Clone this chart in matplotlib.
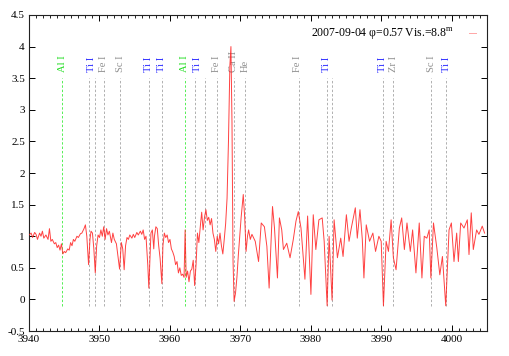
import matplotlib
matplotlib.use("Agg")
import matplotlib.pyplot as plt
from matplotlib.ticker import MultipleLocator, FuncFormatter

plt.rcParams['font.family'] = ['Liberation Serif', 'DejaVu Serif']
plt.rcParams['mathtext.fontset'] = 'custom'
plt.rcParams['mathtext.rm'] = 'Liberation Serif'

# Spectrum (wavelength, normalized flux)
wavelength = [
    3940.0, 3940.3, 3940.5, 3940.8, 3941.0, 3941.2, 3941.5, 3941.7, 3941.9, 3942.1,
    3942.4, 3942.7, 3942.9, 3943.1, 3943.3, 3943.6, 3943.8, 3944.0, 3944.2, 3944.4,
    3944.6, 3944.8, 3945.0, 3945.2, 3945.5, 3945.7, 3945.9, 3946.1, 3946.3, 3946.5,
    3946.8, 3947.0, 3947.3, 3947.5, 3947.8, 3948.0, 3948.2, 3948.45, 3948.65, 3948.8,
    3949.0, 3949.2, 3949.4, 3949.6, 3949.8, 3950.0, 3950.2, 3950.4, 3950.6, 3950.8,
    3951.0, 3951.2, 3951.4, 3951.7, 3951.9, 3952.1, 3952.4, 3952.6, 3952.85, 3953.1,
    3953.3, 3953.5, 3953.7, 3953.9, 3954.1, 3954.3, 3954.6, 3954.8, 3955.0, 3955.3,
    3955.5, 3955.8, 3956.0, 3956.2, 3956.4, 3956.6, 3956.85, 3957.0, 3957.15, 3957.3,
    3957.5, 3957.7, 3957.8, 3958.0, 3958.2, 3958.4, 3958.6, 3958.85, 3959.0, 3959.2,
    3959.4, 3959.6, 3959.8, 3960.0, 3960.2, 3960.4, 3960.6, 3960.8, 3961.0, 3961.2,
    3961.4, 3961.6, 3961.8, 3962.0, 3962.15, 3962.3, 3962.5, 3962.7, 3962.9, 3963.1,
    3963.3, 3963.5, 3963.7, 3963.9, 3964.1, 3964.3, 3964.5, 3964.7, 3964.9, 3965.1,
    3965.3, 3965.5, 3965.7, 3965.9, 3966.1, 3966.3, 3966.5, 3966.7, 3966.9, 3967.1,
    3967.3, 3967.5, 3967.7, 3967.9, 3968.1, 3968.3, 3968.5, 3968.65, 3968.8, 3968.95,
    3969.1, 3969.3, 3969.5, 3969.7, 3969.9, 3970.1, 3970.4, 3970.6, 3970.8, 3971.0,
    3971.16, 3971.4, 3971.63, 3972.1, 3972.57, 3972.95, 3973.4, 3973.75, 3974.07, 3974.55,
    3974.83, 3975.25, 3975.53, 3975.86, 3976.1, 3976.57, 3977.04, 3977.5, 3977.88, 3978.21,
    3978.59, 3979.15, 3979.53, 3980.0, 3980.33, 3980.7, 3981.13, 3981.6, 3981.88, 3982.3,
    3982.58, 3983.0, 3983.29, 3983.76, 3984.23, 3984.56, 3985.03, 3985.41, 3985.73, 3986.3,
    3986.58, 3986.96, 3987.29, 3987.52, 3987.85, 3988.32, 3988.79, 3989.17, 3989.64, 3989.97,
    3990.29, 3990.67, 3991.0, 3991.38, 3991.7, 3992.08, 3992.55, 3992.88, 3993.26, 3993.63,
    3994.1, 3994.43, 3994.9, 3995.37, 3995.75, 3996.08, 3996.45, 3996.78, 3997.02, 3997.39,
    3997.86, 3998.29, 3998.66, 3999.13, 3999.6, 3999.93, 4000.3, 4000.68, 4000.92, 4001.25,
    4001.72, 4002.19, 4002.43, 4002.75, 4003.04, 4003.51, 4003.84, 4004.31, 4004.64,
]
flux = [
    1.02, 1.05, 0.98, 1.06, 1.03, 0.95, 1.05, 1.00, 1.08, 0.97,
    1.02, 0.95, 1.12, 0.92, 0.95, 0.88, 0.90, 0.82, 0.86, 0.78,
    0.88, 0.72, 0.76, 0.74, 0.80, 0.78, 0.90, 0.85, 0.95, 0.92,
    1.00, 0.98, 1.04, 1.05, 1.12, 1.18, 1.00, 0.55, 0.95, 1.08,
    1.05, 0.80, 0.42, 0.85, 1.02, 0.98, 1.10, 1.00, 1.15, 0.95,
    1.12, 1.02, 1.08, 0.90, 1.05, 0.95, 0.88, 0.70, 0.48, 0.90,
    0.80, 0.47, 0.85, 0.98, 0.95, 1.02, 0.97, 1.03, 0.98, 1.06,
    1.02, 1.08, 1.03, 1.10, 0.95, 1.00, 0.55, 0.18, 0.60, 1.05,
    1.10, 0.80, 1.00, 1.15, 1.12, 0.85, 0.65, 0.25, 0.85, 1.05,
    0.98, 1.02, 0.90, 0.95, 0.80, 0.75, 0.68, 0.55, 0.60, 0.42,
    0.50, 0.38, 0.40, 0.35, 1.10, 0.35, 0.45, 0.28, 0.45, 0.48,
    0.62, 0.22, 0.55, 1.05, 0.90, 1.15, 1.38, 1.10, 1.30, 1.42,
    1.25, 1.30, 1.18, 1.28, 1.05, 0.95, 0.76, 1.00, 0.88, 1.05,
    0.85, 0.72, 0.95, 1.20, 1.60, 2.50, 3.70, 4.00, 2.80, 0.60,
    -0.03, 0.10, 0.35, 0.70, 1.00, 1.30, 1.66, 1.30, 0.76, 1.00,
    1.10, 0.95, 1.03, 0.92, 0.60, 1.21, 1.15, 0.84, 0.18, 1.47,
    1.13, 0.34, 1.29, 1.10, 0.79, 0.89, 0.66, 0.95, 1.24, 1.39,
    1.13, 0.32, 1.32, 0.08, 1.34, 0.79, 1.26, 1.29, 0.92, -0.10,
    1.00, -0.01, 1.26, 0.66, 0.97, 0.68, 1.34, 0.92, 1.13, 1.45,
    0.97, 1.42, 0.95, 0.34, 1.18, 0.92, 1.05, 0.76, 1.00, 0.92,
    -0.10, 0.92, 0.76, 1.26, 0.66, 0.47, 1.13, 1.29, 0.79, 1.21,
    0.76, 1.10, 0.42, 1.21, 0.34, 1.00, 0.97, 1.10, 0.34, 1.21,
    0.82, 0.39, 0.68, -0.10, 1.10, 1.21, 0.60, 1.05, 0.60, 1.21,
    1.13, 1.26, 0.71, 1.37, 0.79, 1.10, 1.03, 1.16, 1.05,
]

# Identified line positions (dashed markers)
line_wl = [3944.71, 3948.49, 3949.39, 3950.61, 3952.96, 3957.01, 3958.89, 3962.20,
           3963.50, 3964.92, 3966.61, 3969.04, 3970.69, 3978.25, 3982.34, 3983.05,
           3990.24, 3991.65, 3997.07, 3999.12]
line_kind = ['Al', 'x', 'x', 'x', 'x', 'x', 'x', 'Al',
             'x', 'x', 'x', 'x', 'x', 'x', 'x', 'x',
             'x', 'x', 'x', 'x']

# Line labels
label_wl = [3944.71, 3948.85, 3950.62, 3952.96, 3956.95, 3958.84, 3962.09, 3963.96,
            3966.54, 3969.0, 3970.69, 3978.11, 3982.26, 3990.16, 3991.75, 3997.15, 3999.18]
label_text = ['Al I', 'Ti I', 'Fe I', 'Sc I', 'Ti I', 'Ti I', 'Al I', 'Ti I',
              'Fe I', 'Ca II', 'He', 'Fe I', 'Ti I', 'Ti I', 'Zr I', 'Sc I', 'Ti I']

legend_label = '2007-09-04 φ=0.57 Vis.=8.8$^{\\rm m}$'

label_colors = {'Al': '#22dd22', 'Ti': '#2a2aff'}
line_colors = {'Al': '#55ee55', 'x': '#b0b0b0'}

fig = plt.figure(figsize=(5.09, 3.56), dpi=100)
ax = fig.add_axes([0.057, 0.070, 0.900, 0.888])

for w, k in zip(line_wl, line_kind):
    ax.plot([w, w], [-0.1, 3.5], color=line_colors[k], lw=0.7,
            dashes=(2.5, 2.0), zorder=1)

for w, t in zip(label_wl, label_text):
    el = t.split()[0]
    c = label_colors.get(el, '#909090')
    ax.text(w, 3.6, t, rotation=90, ha='center', va='bottom', fontsize=7.6, color=c)

ax.plot(wavelength, flux, color='#ff2020', lw=0.7, alpha=0.85, zorder=3,
        label=legend_label)

ax.set_xlim(3940, 4005)
ax.set_ylim(-0.5, 4.5)
ax.xaxis.set_major_locator(MultipleLocator(10))
ax.xaxis.set_minor_locator(MultipleLocator(1))
ax.yaxis.set_major_locator(MultipleLocator(0.5))
ax.yaxis.set_major_formatter(FuncFormatter(lambda v, p: '%g' % v))
ax.tick_params(which='both', direction='in', top=True, right=True, labelsize=8, pad=3)
ax.tick_params(which='major', length=4, width=0.7)
ax.tick_params(which='minor', length=2, width=0.6)
for s in ax.spines.values():
    s.set_linewidth(0.8)
    s.set_color('#222222')

leg = ax.legend(loc='upper right', frameon=False, fontsize=8.5, markerfirst=False,
                handlelength=0.6, handletextpad=1.3, borderaxespad=0.3,
                borderpad=0.6)
for h in leg.get_lines():
    h.set_alpha(0.4)

fig.savefig('out.png', dpi=100)
